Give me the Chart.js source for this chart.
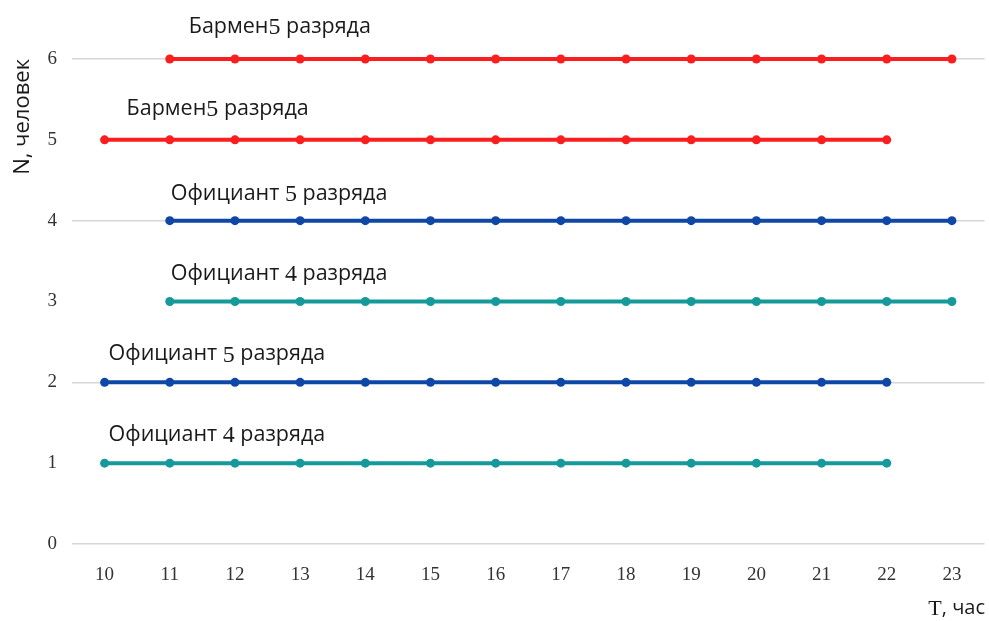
<!DOCTYPE html>
<html>
<head>
<meta charset="utf-8">
<script src="https://cdn.jsdelivr.net/npm/chart.js@4"></script>
<style>
  html, body { margin: 0; padding: 0; background: #fff; }
  #wrap { width: 989px; height: 621px; }
</style>
</head>
<body>
<div id="wrap"><canvas id="staffChart"></canvas></div>
<script>
// hours on the x axis
const hours = ['10','11','12','13','14','15','16','17','18','19','20','21','22','23'];

// one row per staff line (null = not working that hour)
const row6 = [null, 6, 6, 6, 6, 6, 6, 6, 6, 6, 6, 6, 6, 6];
const row5 = [5, 5, 5, 5, 5, 5, 5, 5, 5, 5, 5, 5, 5, null];
const row4 = [null, 4, 4, 4, 4, 4, 4, 4, 4, 4, 4, 4, 4, 4];
const row3 = [null, 3, 3, 3, 3, 3, 3, 3, 3, 3, 3, 3, 3, 3];
const row2 = [2, 2, 2, 2, 2, 2, 2, 2, 2, 2, 2, 2, 2, null];
const row1 = [1, 1, 1, 1, 1, 1, 1, 1, 1, 1, 1, 1, 1, null];

const rowNames = ['Бармен5 разряда', 'Бармен5 разряда', 'Официант 5 разряда',
                  'Официант 4 разряда', 'Официант 5 разряда', 'Официант 4 разряда'];
const yTicks = [0, 1, 2, 3, 4, 5, 6];
const gridTicks = [0, 2, 4, 6];   // only these rows get a grid line

const RED = '#fa1e1e', BLUE = '#0f47a6', TEAL = '#15999a';
const SANS = '"Open Sans", "Noto Sans", sans-serif';
const SERIF = '"Liberation Serif", "DejaVu Serif", serif';

function lineSet(data, color) {
  return {
    data: data,
    borderColor: color,
    backgroundColor: color,
    borderWidth: 4,
    pointRadius: 4.5,
    pointHoverRadius: 4.5,
    pointBorderWidth: 0,
    fill: false,
    spanGaps: false,
    clip: false,
  };
}

// label offsets (px) from first point of each line
const labelShift = [[19, -32], [22, -31], [1, -27], [1, -28], [4, -28], [4, -28]];

// draws the text above each line, digits in serif like the original
const rowLabels = {
  id: 'rowLabels',
  afterDatasetsDraw(chart) {
    const ctx = chart.ctx;
    ctx.save();
    ctx.fillStyle = '#1a1a1a';
    ctx.textBaseline = 'middle';
    ctx.textAlign = 'left';
    chart.data.datasets.forEach((ds, i) => {
      const meta = chart.getDatasetMeta(i);
      const first = meta.data.find((p, k) => ds.data[k] !== null);
      if (!first) return;
      let x = first.x + labelShift[i][0];
      const y = first.y + labelShift[i][1];
      const parts = rowNames[i].split(/(\d+)/).filter(s => s.length);
      parts.forEach(part => {
        const isNum = /^\d+$/.test(part);
        ctx.font = isNum ? '24px ' + SERIF : '21.5px ' + SANS;
        ctx.fillText(part, x, y + (isNum ? 1 : 0));
        x += ctx.measureText(part).width;
      });
    });
    // x axis title: serif T, sans rest
    const tx = 985, ty = 608;
    ctx.textAlign = 'right';
    ctx.font = '20px ' + SANS;
    const rest = ', час';
    ctx.fillText(rest, tx, ty);
    const w = ctx.measureText(rest).width;
    ctx.font = '22px ' + SERIF;
    ctx.fillText('T', tx - w, ty + 1);
    ctx.restore();
  }
};

const ctx = document.getElementById('staffChart').getContext('2d');
window.staffChart = new Chart(ctx, {
  type: 'line',
  data: {
    labels: hours,
    datasets: [
      lineSet(row6, RED),
      lineSet(row5, RED),
      lineSet(row4, BLUE),
      lineSet(row3, TEAL),
      lineSet(row2, BLUE),
      lineSet(row1, TEAL),
    ],
  },
  options: {
    responsive: true,
    maintainAspectRatio: false,
    animation: false,
    layout: { padding: { top: 59, right: 4, left: 0, bottom: 0 } },
    plugins: {
      legend: { display: false },
      tooltip: { enabled: false },
    },
    scales: {
      x: {
        type: 'category',
        offset: true,
        grid: { display: false },
        border: { display: false },
        ticks: {
          color: '#333',
          font: { family: SERIF, size: 19 },
          padding: 12,
          maxRotation: 0,
        },
        afterFit: (scale) => { scale.height = 77; },
      },
      y: {
        min: 0,
        max: 6,
        afterBuildTicks: (scale) => { scale.ticks = yTicks.map(v => ({ value: v })); },
        grid: { display: false },
        border: { display: false },
        ticks: {
          color: '#333',
          font: { family: SERIF, size: 19 },
          padding: 7,
        },
        title: {
          display: true,
          text: 'N, человек',
          align: 'end',
          color: '#1a1a1a',
          font: { family: SANS, size: 22 },
          padding: { top: 10, bottom: 4 },
        },
        afterFit: (scale) => { scale.width = 72; },
      },
      // invisible axis that only carries the grid lines
      yGrid: {
        position: 'left',
        min: 0,
        max: 6,
        afterBuildTicks: (scale) => { scale.ticks = gridTicks.map(v => ({ value: v })); },
        grid: { color: '#d6d6d6', lineWidth: 1.5, drawTicks: false },
        border: { display: false },
        ticks: { display: false },
        afterFit: (scale) => { scale.width = 0; },
      },
    },
  },
  plugins: [rowLabels],
});
</script>
</body>
</html>
